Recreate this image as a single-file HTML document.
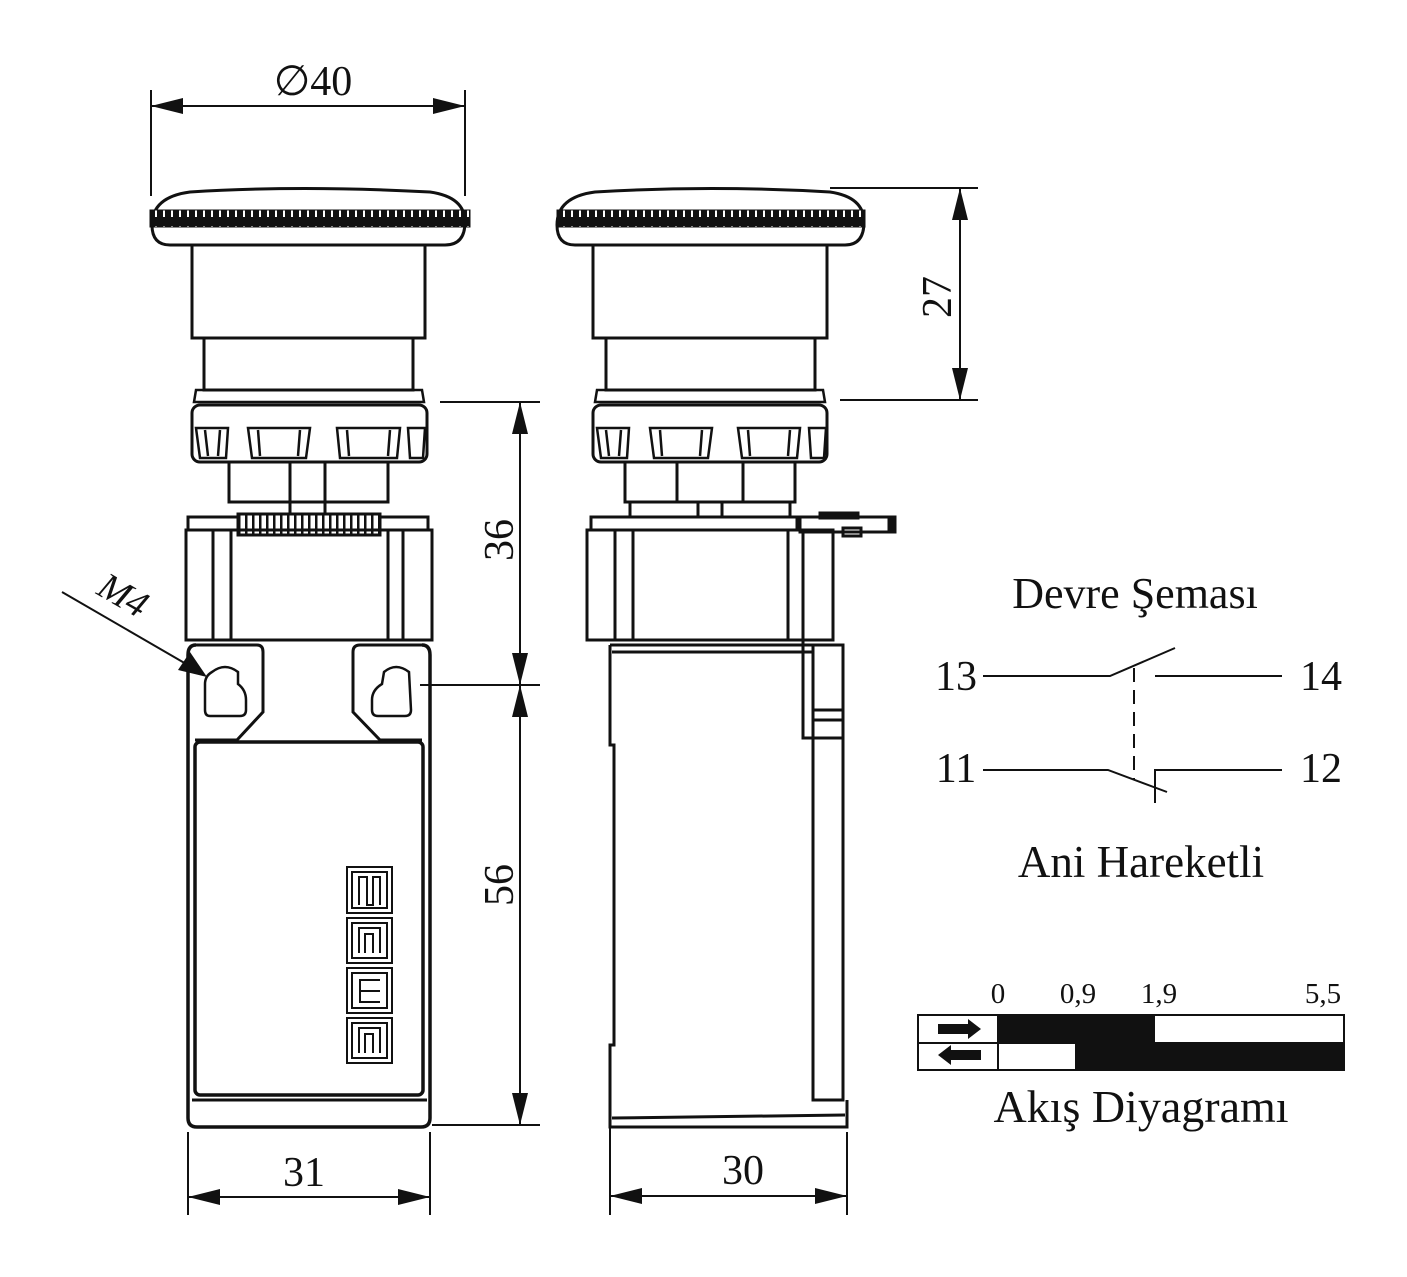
<!DOCTYPE html>
<html><head><meta charset="utf-8"><style>
html,body{margin:0;padding:0;background:#fff}
svg{display:block}
text{font-family:"Liberation Serif",serif;fill:#111}
</style></head><body>
<svg width="1407" height="1277" viewBox="0 0 1407 1277" xmlns="http://www.w3.org/2000/svg">
<defs>
<pattern id="knurl" x="0" y="0" width="8" height="17" patternUnits="userSpaceOnUse">
<rect width="8" height="17" fill="#111"/><rect x="3" y="5" width="2" height="8" fill="#fff"/>
</pattern>
<pattern id="gear" x="0" y="0" width="7" height="22" patternUnits="userSpaceOnUse">
<rect width="7" height="22" fill="#fff"/><rect x="0" y="0" width="2.5" height="22" fill="#111"/>
</pattern>
</defs>
<g fill="none" stroke="#111" stroke-width="3">
<!-- ===== FRONT VIEW ===== -->
<path d="M170,245 Q152,245 152,225 Q152,197 190,192 Q300,185 430,192 Q465,197 465,222 Q465,245 445,245 Z" />
<rect x="150" y="210" width="320" height="17" fill="url(#knurl)" stroke="#111" stroke-width="1"/>
<rect x="192" y="245" width="233" height="93"/>
<rect x="204" y="338" width="209" height="52"/>
<path d="M196,390 L422,390 L424,402 L194,402 Z" stroke-width="2.5"/>
<rect x="192" y="405" width="235" height="57" rx="8"/>
<g stroke-width="2.5">
<path d="M196,428 L228,428 L226,458 L200,458 Z M205,430 L208,456 M220,430 L218,456"/>
<path d="M248,428 L310,428 L306,458 L252,458 Z M258,430 L260,456 M300,430 L298,456"/>
<path d="M337,428 L400,428 L397,458 L340,458 Z M347,430 L349,456 M390,430 L388,456"/>
<path d="M408,428 L425,428 L423,458 L410,458 Z"/>
</g>
<rect x="229" y="462" width="159" height="40"/>
<rect x="290" y="462" width="35" height="52"/>
<rect x="188" y="517" width="240" height="13"/>
<rect x="238" y="514" width="142" height="21" fill="url(#gear)"/>
<rect x="186" y="530" width="246" height="110"/>
<line x1="213" y1="530" x2="213" y2="640"/><line x1="231" y1="530" x2="231" y2="640"/>
<line x1="388" y1="530" x2="388" y2="640"/><line x1="403" y1="530" x2="403" y2="640"/>
<path d="M196,645 L257,645 Q263,645 263,652 L263,712 L237,740 L195,740" />
<path d="M422,645 L360,645 Q353,645 353,652 L353,712 L380,740 L422,740" />
<path d="M196,645 Q188,645 188,655 L188,1118 Q188,1127 197,1127 L421,1127 Q430,1127 430,1118 L430,655 Q430,645 422,645" stroke-width="3.5"/>
<rect x="195" y="742" width="228" height="353" rx="5" stroke-width="3.5"/>
<line x1="192" y1="1100" x2="427" y2="1100"/>
<path d="M212,672 Q225,662 238,672 L238,684 Q246,690 246,700 L246,710 Q246,716 240,716 L210,716 Q205,716 205,710 L205,684 Q205,676 212,672 Z" stroke-width="2.5"/>
<path d="M384,672 Q396,662 409,672 L411,710 Q411,716 405,716 L378,716 Q372,716 372,710 L372,700 Q372,690 382,684 Z" stroke-width="2.5"/>
<g stroke-width="2">
<rect x="347" y="867" width="45" height="46"/><rect x="352" y="872" width="35" height="36"/><path d="M359,905 L359,877 L367,877 L367,905 L373,905 L373,877 L380,877 L380,905"/>
<rect x="347" y="918" width="45" height="45"/><rect x="352" y="923" width="35" height="35"/><path d="M359,953 L359,928 L380,928 L380,953 M365,953 L365,934 L373,934 L373,953"/>
<rect x="347" y="968" width="45" height="45"/><rect x="352" y="973" width="35" height="35"/><path d="M380,980 L360,980 L360,1002 L380,1002 M360,991 L380,991"/>
<rect x="347" y="1018" width="45" height="45"/><rect x="352" y="1023" width="35" height="35"/><path d="M359,1053 L359,1028 L380,1028 L380,1053 M365,1053 L365,1034 L373,1034 L373,1053"/>
</g>
</g>
<g fill="none" stroke="#111" stroke-width="3">
<!-- ===== SIDE VIEW ===== -->
<path d="M575,245 Q557,245 557,225 Q557,197 595,192 Q710,185 830,192 Q864,197 864,222 Q864,245 845,245 Z"/>
<rect x="557" y="210" width="308" height="17" fill="url(#knurl)" stroke="#111" stroke-width="1"/>
<rect x="593" y="245" width="234" height="93"/>
<rect x="606" y="338" width="209" height="52"/>
<path d="M597,390 L823,390 L825,402 L595,402 Z" stroke-width="2.5"/>
<rect x="593" y="405" width="234" height="57" rx="8"/>
<g stroke-width="2.5">
<path d="M597,428 L629,428 L627,458 L601,458 Z M606,430 L609,456 M621,430 L619,456"/>
<path d="M650,428 L712,428 L708,458 L654,458 Z M660,430 L662,456 M702,430 L700,456"/>
<path d="M738,428 L800,428 L797,458 L742,458 Z M748,430 L750,456 M790,430 L788,456"/>
<path d="M809,428 L826,428 L824,458 L811,458 Z"/>
</g>
<rect x="625" y="462" width="170" height="40"/>
<line x1="677" y1="462" x2="677" y2="502"/><line x1="743" y1="462" x2="743" y2="502"/>
<rect x="630" y="502" width="68" height="15"/><rect x="722" y="502" width="68" height="15"/>
<rect x="591" y="517" width="206" height="13"/>
<rect x="800" y="517" width="95" height="15"/>
<rect x="820" y="513" width="38" height="5" fill="#111"/>
<rect x="889" y="517" width="6" height="15" fill="#111"/>
<rect x="843" y="528" width="18" height="8"/>
<rect x="587" y="530" width="246" height="110"/>
<line x1="615" y1="530" x2="615" y2="640"/><line x1="633" y1="530" x2="633" y2="640"/>
<line x1="788" y1="530" x2="788" y2="640"/><line x1="803" y1="530" x2="803" y2="640"/>
<path d="M610,645 L843,645 L843,1100 L813,1100 L813,645"/>
<line x1="612" y1="652" x2="813" y2="652"/>
<path d="M803,640 L803,738 L843,738"/>
<line x1="813" y1="710" x2="843" y2="710"/><line x1="813" y1="720" x2="843" y2="720"/>
<path d="M610,645 L610,745 L614,745 L614,1045 L610,1045 L610,1127 L847,1127 L847,1100"/>
<line x1="612" y1="1118" x2="845" y2="1115"/>
</g>
<g stroke="#111" stroke-width="2" fill="none">
<line x1="151" y1="90" x2="151" y2="196"/><line x1="465" y1="90" x2="465" y2="196"/>
<line x1="151" y1="106" x2="465" y2="106"/>
<line x1="440" y1="402" x2="540" y2="402"/><line x1="420" y1="685" x2="540" y2="685"/><line x1="432" y1="1125" x2="540" y2="1125"/>
<line x1="520" y1="402" x2="520" y2="1125"/>
<line x1="188" y1="1132" x2="188" y2="1215"/><line x1="430" y1="1132" x2="430" y2="1215"/>
<line x1="188" y1="1197" x2="430" y2="1197"/>
<line x1="610" y1="1105" x2="610" y2="1215"/><line x1="847" y1="1132" x2="847" y2="1215"/>
<line x1="610" y1="1196" x2="847" y2="1196"/>
<line x1="830" y1="188" x2="978" y2="188"/><line x1="840" y1="400" x2="978" y2="400"/>
<line x1="960" y1="188" x2="960" y2="400"/>
<line x1="62" y1="592" x2="200" y2="672"/>
</g>
<g fill="#111">
<path d="M151,106 L183,98 L183,114 Z"/><path d="M465,106 L433,98 L433,114 Z"/>
<path d="M520,402 L512,434 L528,434 Z"/><path d="M520,685 L512,653 L528,653 Z"/>
<path d="M520,685 L512,717 L528,717 Z"/><path d="M520,1125 L512,1093 L528,1093 Z"/>
<path d="M188,1197 L220,1189 L220,1205 Z"/><path d="M430,1197 L398,1189 L398,1205 Z"/>
<path d="M610,1196 L642,1188 L642,1204 Z"/><path d="M847,1196 L815,1188 L815,1204 Z"/>
<path d="M960,188 L952,220 L968,220 Z"/><path d="M960,400 L952,368 L968,368 Z"/>
<path d="M207,677 L178,670 L190,652 Z"/>
</g>
<text x="313" y="95" font-size="42" text-anchor="middle">∅40</text>
<text x="0" y="0" font-size="42" text-anchor="middle" transform="translate(513,540) rotate(-90)">36</text>
<text x="0" y="0" font-size="42" text-anchor="middle" transform="translate(513,885) rotate(-90)">56</text>
<text x="0" y="0" font-size="42" text-anchor="middle" transform="translate(951,297) rotate(-90)">27</text>
<text x="304" y="1186" font-size="42" text-anchor="middle">31</text>
<text x="743" y="1184" font-size="42" text-anchor="middle">30</text>
<text x="0" y="0" font-size="38" font-style="italic" text-anchor="middle" transform="translate(117,606) rotate(30)">M4</text>
<text x="1135" y="608" font-size="44" text-anchor="middle">Devre Şeması</text>
<g stroke="#111" stroke-width="2" fill="none">
<path d="M983,676 L1110,676 L1175,648"/>
<line x1="1155" y1="676" x2="1282" y2="676"/>
<line x1="1134" y1="668" x2="1134" y2="780" stroke-dasharray="14,8"/>
<path d="M983,770 L1108,770 L1167,792"/>
<path d="M1155,803 L1155,770 L1282,770"/>
</g>
<text x="956" y="690" font-size="42" text-anchor="middle">13</text>
<text x="1321" y="690" font-size="42" text-anchor="middle">14</text>
<text x="956" y="782" font-size="42" text-anchor="middle">11</text>
<text x="1321" y="782" font-size="42" text-anchor="middle">12</text>
<text x="1141" y="877" font-size="45" text-anchor="middle">Ani Hareketli</text>
<text x="998" y="1003" font-size="29" text-anchor="middle">0</text>
<text x="1078" y="1003" font-size="29" text-anchor="middle">0,9</text>
<text x="1159" y="1003" font-size="29" text-anchor="middle">1,9</text>
<text x="1323" y="1003" font-size="29" text-anchor="middle">5,5</text>
<rect x="998" y="1015" width="157" height="28" fill="#111"/>
<rect x="1075" y="1043" width="269" height="27" fill="#111"/>
<g stroke="#111" stroke-width="2" fill="none">
<rect x="918" y="1015" width="426" height="55"/>
<line x1="918" y1="1043" x2="1344" y2="1043"/>
<line x1="998" y1="1015" x2="998" y2="1070"/>
</g>
<path d="M938,1024 L968,1024 L968,1019 L981,1029 L968,1039 L968,1034 L938,1034 Z" fill="#111"/>
<path d="M981,1050 L951,1050 L951,1045 L938,1055 L951,1065 L951,1060 L981,1060 Z" fill="#111"/>
<text x="1141" y="1122" font-size="46" text-anchor="middle">Akış Diyagramı</text>
</svg>
</body></html>
